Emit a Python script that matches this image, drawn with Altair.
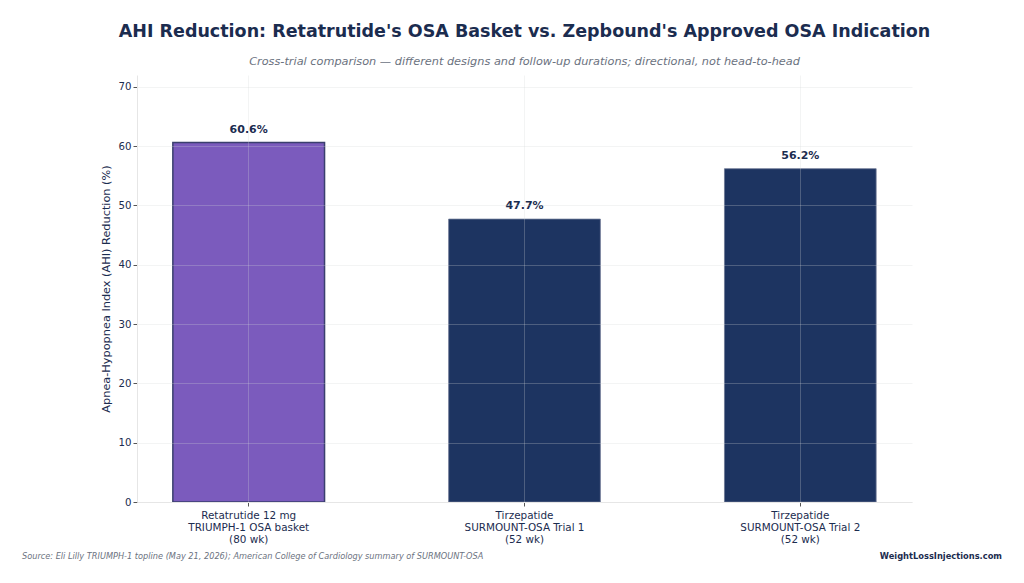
import altair as alt
import pandas as pd

categories = [
    "Retatrutide 12 mg|TRIUMPH-1 OSA basket|(80 wk)",
    "Tirzepatide|SURMOUNT-OSA Trial 1|(52 wk)",
    "Tirzepatide|SURMOUNT-OSA Trial 2|(52 wk)",
]
values = [60.6, 47.7, 56.2]
groups = ["Retatrutide", "Tirzepatide", "Tirzepatide"]
value_labels = ["60.6%", "47.7%", "56.2%"]

df = pd.DataFrame({"cat": categories, "val": values, "grp": groups, "lab": value_labels})

FONT = "DejaVu Sans"
NAVY = "#1b2c4f"
GRID = "#d3d5d8"
GRID_OP = 0.27

x_enc = alt.X(
    "cat:N",
    sort=categories,
    title=None,
    scale=alt.Scale(paddingInner=0.45, paddingOuter=0.13),
    axis=alt.Axis(
        labelAngle=0,
        labelExpr="split(datum.label, '|')",
        labelFontSize=10.4,
        labelColor=NAVY,
        labelFont=FONT,
        labelLineHeight=12,
        labelPadding=4,
        tickColor="#555555",
        tickSize=4,
        domainColor="#e6e6e6",
        grid=True,
        gridColor=GRID,
        gridOpacity=GRID_OP,
        zindex=1,
    ),
)

y_enc = alt.Y(
    "val:Q",
    title="Apnea-Hypopnea Index (AHI) Reduction (%)",
    scale=alt.Scale(domain=[0, 72], nice=False),
    axis=alt.Axis(
        values=[0, 10, 20, 30, 40, 50, 60, 70],
        labelFontSize=10.2,
        labelColor=NAVY,
        labelFont=FONT,
        titleFont=FONT,
        titleFontSize=11.3,
        titleFontWeight="normal",
        titleColor=NAVY,
        titlePadding=7,
        tickColor="#555555",
        tickSize=4,
        domainColor="#e6e6e6",
        gridColor=GRID,
        gridOpacity=GRID_OP,
        zindex=1,
    ),
)

bars = alt.Chart(df).mark_bar().encode(
    x=x_enc,
    y=y_enc,
    color=alt.Color(
        "grp:N",
        scale=alt.Scale(domain=["Retatrutide", "Tirzepatide"], range=["#7b5bbd", "#1d3461"]),
        legend=None,
    ),
    stroke=alt.condition("datum.grp == 'Retatrutide'", alt.value("#3a3f6e"), alt.value("#6a7592")),
    strokeWidth=alt.condition("datum.grp == 'Retatrutide'", alt.value(1.5), alt.value(0.8)),
)

labels = alt.Chart(df).mark_text(
    font=FONT, fontSize=11, fontWeight="bold", color=NAVY, dy=-13
).encode(x=alt.X("cat:N", sort=categories), y="val:Q", text="lab:N")

source = alt.Chart(pd.DataFrame({"t": ["Source: Eli Lilly TRIUMPH-1 topline (May 21, 2026); American College of Cardiology summary of SURMOUNT-OSA"]})).mark_text(
    font=FONT, fontSize=8.2, fontStyle="italic", color="#6b7280", align="left", baseline="middle"
).encode(text="t:N", x=alt.value(-115), y=alt.value(482))

brand = alt.Chart(pd.DataFrame({"t": ["WeightLossInjections.com"]})).mark_text(
    font=FONT, fontSize=8.3, fontWeight="bold", color=NAVY, align="right", baseline="middle"
).encode(text="t:N", x=alt.value(865), y=alt.value(482))

chart = alt.layer(bars, labels, source, brand).properties(
    width=775,
    height=427,
    title=alt.TitleParams(
        text="AHI Reduction: Retatrutide's OSA Basket vs. Zepbound's Approved OSA Indication",
        subtitle="Cross-trial comparison — different designs and follow-up durations; directional, not head-to-head",
        anchor="middle",
        font=FONT,
        fontSize=17.5,
        fontWeight="bold",
        color=NAVY,
        subtitleFont=FONT,
        subtitleFontSize=11.3,
        subtitleFontStyle="italic",
        subtitleColor="#6b7280",
        subtitlePadding=15,
        offset=8,
    ),
    autosize=alt.AutoSizeParams(type="none"),
    padding={"left": 137, "top": 75, "right": 112, "bottom": 81},
).configure(background="white").configure_view(strokeWidth=0, stroke="transparent")

chart.save("out.html", embed_options={"renderer": "svg", "actions": False})
